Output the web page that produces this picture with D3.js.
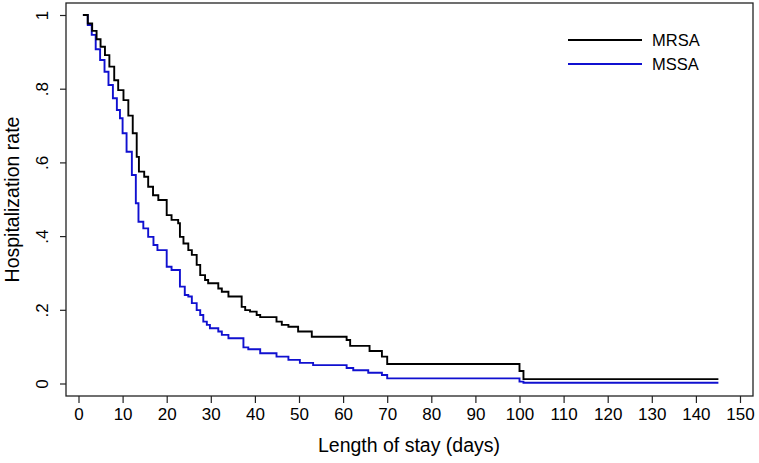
<!DOCTYPE html>
<html>
<head>
<meta charset="utf-8">
<script src="https://cdn.jsdelivr.net/npm/d3@7"></script>
<style>
  body { margin: 0; background: #fff; }
  text { font-family: "Liberation Sans", Arial, Helvetica, sans-serif; fill: #000; }
</style>
</head>
<body>
<svg id="chart" width="759" height="463"></svg>
<script>
// ---- data ----
const seriesNames = ["MRSA", "MSSA"];
const seriesColors = ["#000000", "#1010d0"];
const endDay = 145.1;

const mrsaDays = [1.0, 2.1, 3.1, 4.1, 5.0, 6.0, 7.0, 8.1, 9.0, 10.2, 11.3, 12.3, 13.2, 13.7, 14.9, 15.8, 16.9, 18.1, 20.0, 21.1, 22.6, 23.0, 23.8, 24.9, 25.7, 26.8, 27.6, 28.7, 29.4, 31.7, 32.5, 34.0, 37.0, 37.8, 38.9, 40.4, 41.2, 44.9, 46.1, 47.6, 49.8, 52.9, 60.8, 61.6, 66.0, 68.8, 70.0, 100.0, 100.9];
const mrsaVals = [1.0, 0.977, 0.957, 0.934, 0.914, 0.891, 0.860, 0.823, 0.796, 0.769, 0.727, 0.679, 0.615, 0.575, 0.561, 0.534, 0.511, 0.498, 0.457, 0.444, 0.435, 0.398, 0.380, 0.362, 0.349, 0.322, 0.294, 0.281, 0.272, 0.258, 0.249, 0.236, 0.208, 0.199, 0.195, 0.186, 0.180, 0.168, 0.159, 0.154, 0.141, 0.127, 0.118, 0.102, 0.088, 0.073, 0.053, 0.034, 0.012];

const mssaDays = [1.0, 2.1, 3.0, 3.9, 4.9, 5.9, 6.8, 7.8, 8.7, 9.4, 10.0, 10.9, 12.1, 13.0, 13.6, 14.7, 15.8, 17.0, 17.9, 20.0, 21.1, 23.0, 24.1, 24.9, 25.7, 26.8, 27.6, 28.3, 29.1, 29.8, 31.7, 32.5, 34.0, 37.4, 38.5, 41.2, 44.9, 47.6, 50.2, 53.2, 60.8, 62.3, 65.7, 68.8, 70.0, 100.0, 100.9];
const mssaVals = [1.0, 0.973, 0.946, 0.907, 0.878, 0.846, 0.810, 0.774, 0.742, 0.720, 0.679, 0.629, 0.566, 0.489, 0.439, 0.421, 0.398, 0.376, 0.362, 0.317, 0.308, 0.263, 0.240, 0.236, 0.218, 0.199, 0.186, 0.168, 0.159, 0.150, 0.141, 0.132, 0.123, 0.098, 0.093, 0.082, 0.073, 0.064, 0.056, 0.050, 0.042, 0.036, 0.029, 0.023, 0.014, 0.005, 0.002];

const xTicks = [0,10,20,30,40,50,60,70,80,90,100,110,120,130,140,150];
const yTicks = [0, 0.2, 0.4, 0.6, 0.8, 1];
const yTickLabels = ["0", ".2", ".4", ".6", ".8", "1"];
const xTitle = "Length of stay (days)";
const yTitle = "Hospitalization rate";

// ---- layout ----
const svg = d3.select("#chart");
const frame = {left: 66, right: 753, top: 3, bottom: 396};
const x = d3.scaleLinear().domain([0, 150]).range([78.5, 740]);
const y = d3.scaleLinear().domain([0, 1]).range([383.5, 15]);

// frame
svg.append("rect")
  .attr("x", frame.left).attr("y", frame.top)
  .attr("width", frame.right - frame.left).attr("height", frame.bottom - frame.top)
  .attr("fill", "none").attr("stroke", "#222").attr("stroke-width", 1.3);

// x axis
const xAxis = d3.axisBottom(x).tickValues(xTicks).tickSize(7).tickPadding(5).tickFormat(d3.format("d"));
const gx = svg.append("g").attr("transform", `translate(0,${frame.bottom})`).call(xAxis);
gx.select(".domain").remove();
gx.selectAll(".tick line").attr("stroke", "#222").attr("stroke-width", 1.2);
gx.selectAll(".tick text").style("font-size", "17px").attr("fill", "#000")
  .style("font-family", "'Liberation Sans', Arial, sans-serif");

// y axis
const yAxis = d3.axisLeft(y).tickValues(yTicks).tickSize(6).tickFormat((d, i) => yTickLabels[i]);
const gy = svg.append("g").attr("transform", `translate(${frame.left},0)`).call(yAxis);
gy.select(".domain").remove();
gy.selectAll(".tick line").attr("stroke", "#222").attr("stroke-width", 1.2);
gy.selectAll(".tick text")
  .attr("x", null).attr("dy", null)
  .attr("text-anchor", "middle")
  .attr("transform", "translate(-18,0) rotate(-90)")
  .style("font-size", "17px").attr("fill", "#000")
  .style("font-family", "'Liberation Sans', Arial, sans-serif");

// titles
svg.append("text").attr("x", 409).attr("y", 452)
  .attr("text-anchor", "middle").style("font-size", "19.5px").text(xTitle);
svg.append("text")
  .attr("transform", `translate(19,${(frame.top + frame.bottom) / 2}) rotate(-90)`)
  .attr("text-anchor", "middle").style("font-size", "19.5px").text(yTitle);

// series
function pts(days, vals) {
  const p = days.map((d, i) => [d, vals[i]]);
  p.push([endDay, vals[vals.length - 1]]);
  return p;
}
const line = d3.line().x(d => x(d[0])).y(d => y(d[1])).curve(d3.curveStepAfter);
const seriesData = [pts(mrsaDays, mrsaVals), pts(mssaDays, mssaVals)];
// draw MSSA first, MRSA on top
[1, 0].forEach(i => {
  svg.append("path").datum(seriesData[i])
    .attr("fill", "none").attr("stroke", seriesColors[i])
    .attr("stroke-width", 1.9).attr("d", line);
});

// legend
const legY = [40, 64];
seriesNames.forEach((n, i) => {
  svg.append("line").attr("x1", 568).attr("x2", 642).attr("y1", legY[i]).attr("y2", legY[i])
    .attr("stroke", seriesColors[i]).attr("stroke-width", 1.9);
  svg.append("text").attr("x", 652).attr("y", legY[i] + 6).style("font-size", "16.5px").text(n);
});
</script>
</body>
</html>
